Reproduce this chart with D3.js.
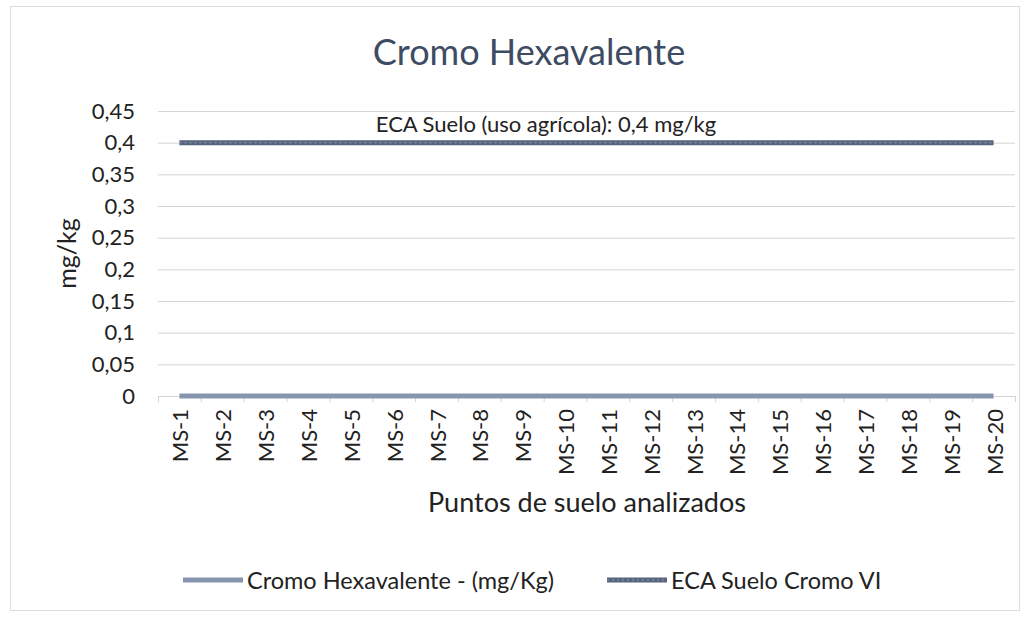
<!DOCTYPE html>
<html>
<head>
<meta charset="utf-8">
<script src="https://cdn.jsdelivr.net/npm/d3@7"></script>
<style>
  body { margin: 0; background: #fff; }
  svg { font-family: Lato, "Open Sans", sans-serif; }
</style>
</head>
<body>
<script>
"use strict";

// DATA
const puntos = ["MS-1", "MS-2", "MS-3", "MS-4", "MS-5", "MS-6", "MS-7", "MS-8", "MS-9", "MS-10",
  "MS-11", "MS-12", "MS-13", "MS-14", "MS-15", "MS-16", "MS-17", "MS-18", "MS-19", "MS-20"];
const cromoHex = [0, 0, 0, 0, 0, 0, 0, 0, 0, 0, 0, 0, 0, 0, 0, 0, 0, 0, 0, 0];
const ecaSuelo = [0.4, 0.4, 0.4, 0.4, 0.4, 0.4, 0.4, 0.4, 0.4, 0.4,
  0.4, 0.4, 0.4, 0.4, 0.4, 0.4, 0.4, 0.4, 0.4, 0.4];
const yTicks = [0, 0.05, 0.1, 0.15, 0.2, 0.25, 0.3, 0.35, 0.4, 0.45];
const seriesNames = ["Cromo Hexavalente - (mg/Kg)", "ECA Suelo Cromo VI"];

const width = 1027;
const height = 619;
const margin = { top: 111, right: 12, bottom: 223, left: 158 };

const svg = d3.select("body").append("svg")
  .attr("width", width)
  .attr("height", height);

// chart border
svg.append("rect")
  .attr("x", 10.5).attr("y", 6.5)
  .attr("width", 1009).attr("height", 604)
  .attr("fill", "none")
  .attr("stroke", "#dcdcdc")
  .attr("stroke-width", 1);

const x = d3.scaleBand(puntos, [margin.left, width - margin.right]);
const y = d3.scaleLinear([0, 0.45], [height - margin.bottom, margin.top]);
const fmt = (d) => String(d).replace(".", ",");

// GRIDLINES
svg.append("g")
  .selectAll("line")
  .data(yTicks.slice(1))
  .join("line")
  .attr("x1", margin.left).attr("x2", width - margin.right)
  .attr("y1", (d) => y(d) + 0.5).attr("y2", (d) => y(d) + 0.5)
  .attr("stroke", "#d4d4d4");

// Y AXIS
svg.append("g")
  .attr("transform", `translate(${margin.left},0)`)
  .call(d3.axisLeft(y).tickValues(yTicks).tickFormat(fmt).tickSize(0).tickPadding(23))
  .call((g) => g.select(".domain").remove())
  .call((g) => g.selectAll("text")
    .attr("font-size", 22)
    .attr("fill", "#222")
    .attr("font-family", "Lato, sans-serif"));

// X AXIS
const xAxis = svg.append("g")
  .attr("transform", `translate(0,${y(0)})`);
xAxis.append("line")
  .attr("x1", margin.left).attr("x2", width - margin.right)
  .attr("y1", 0.5).attr("y2", 0.5)
  .attr("stroke", "#d4d4d4");
xAxis.selectAll(".tk")
  .data(puntos.concat(["end"]))
  .join("line")
  .attr("class", "tk")
  .attr("x1", (d, i) => margin.left + i * x.step() + 0.5)
  .attr("x2", (d, i) => margin.left + i * x.step() + 0.5)
  .attr("y1", 0).attr("y2", 6)
  .attr("stroke", "#d4d4d4");
xAxis.selectAll("text")
  .data(puntos)
  .join("text")
  .attr("transform", (d) => `translate(${x(d) + x.bandwidth() / 2 + 9},13) rotate(-90)`)
  .attr("text-anchor", "end")
  .attr("font-size", 22)
  .attr("fill", "#222")
  .text((d) => d);

// LINES
const line = d3.line()
  .x((d, i) => x(puntos[i]) + x.bandwidth() / 2)
  .y((d) => y(d));

svg.append("path")
  .datum(cromoHex)
  .attr("d", line)
  .attr("fill", "none")
  .attr("stroke", "#8794ad")
  .attr("stroke-width", 5);

svg.append("path")
  .datum(ecaSuelo)
  .attr("d", line)
  .attr("fill", "none")
  .attr("stroke", "#56647d")
  .attr("stroke-width", 5);
svg.append("path")
  .datum(ecaSuelo)
  .attr("d", line)
  .attr("fill", "none")
  .attr("stroke", "#8f9ab0")
  .attr("stroke-width", 1)
  .attr("stroke-dasharray", "2 3");

// TITLE AND LABELS
svg.append("text")
  .attr("x", 529).attr("y", 65)
  .attr("text-anchor", "middle")
  .attr("font-size", 36)
  .attr("fill", "#3e4c63")
  .text("Cromo Hexavalente");

svg.append("text")
  .attr("x", 546)
  .attr("y", y(0.4) - 11)
  .attr("text-anchor", "middle")
  .attr("font-size", 22)
  .attr("fill", "#222")
  .text("ECA Suelo (uso agrícola): 0,4 mg/kg");

svg.append("text")
  .attr("transform", `translate(76,${(y(0) + y(0.45)) / 2}) rotate(-90)`)
  .attr("text-anchor", "middle")
  .attr("font-size", 25)
  .attr("fill", "#222")
  .text("mg/kg");

svg.append("text")
  .attr("x", 587).attr("y", 512)
  .attr("text-anchor", "middle")
  .attr("font-size", 27)
  .attr("fill", "#222")
  .text("Puntos de suelo analizados");

// LEGEND
const legendX = [183, 607];
const legend = svg.append("g")
  .selectAll("g")
  .data(seriesNames)
  .join("g")
  .attr("transform", (d, i) => `translate(${legendX[i]},580)`);
legend.append("line")
  .attr("x1", 0).attr("x2", 60)
  .attr("stroke", (d, i) => (i === 0 ? "#8794ad" : "#56647d"))
  .attr("stroke-width", 5);
legend.filter((d, i) => i === 1).append("line")
  .attr("x1", 0).attr("x2", 60)
  .attr("stroke", "#8f9ab0")
  .attr("stroke-width", 1)
  .attr("stroke-dasharray", "2 3");
legend.append("text")
  .attr("x", 64)
  .attr("y", 9)
  .attr("font-size", 23.5)
  .attr("fill", "#222")
  .text((d) => d);
</script>
</body>
</html>
